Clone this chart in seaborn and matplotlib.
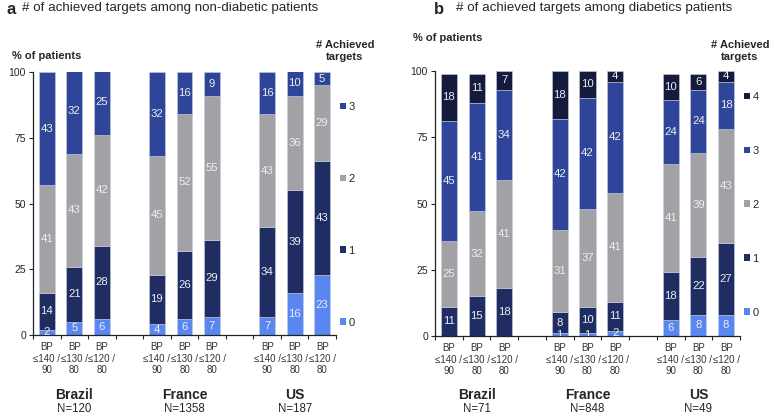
import numpy as np
import pandas as pd
import matplotlib
matplotlib.use("Agg")
import matplotlib.pyplot as plt
from matplotlib.patches import Patch
from matplotlib.transforms import blended_transform_factory
import seaborn as sns

# ---- data ----
countries_a = ["Brazil", "France", "US"]
n_a = ["N=120", "N=1358", "N=187"]
countries_b = ["Brazil", "France", "US"]
n_b = ["N=71", "N=848", "N=49"]
bp_labels = ["BP\n≤140 /\n90", "BP\n≤130 /\n80", "BP\n≤120 /\n80"]

# panel a: non-diabetic, 4 categories (0..3)
a0 = [2, 5, 6, 4, 6, 7, 7, 16, 23]
a1 = [14, 21, 28, 19, 26, 29, 34, 39, 43]
a2 = [41, 43, 42, 45, 52, 55, 43, 36, 29]
a3 = [43, 32, 25, 32, 16, 9, 16, 10, 5]

# panel b: diabetic, 5 categories (0..4)
b0 = [0, 0, 0, 1, 1, 2, 6, 8, 8]
b1 = [11, 15, 18, 8, 10, 11, 18, 22, 27]
b2 = [25, 32, 41, 31, 37, 41, 41, 39, 43]
b3 = [45, 41, 34, 42, 42, 42, 24, 24, 18]
b4 = [18, 11, 7, 18, 10, 4, 10, 6, 4]

colors = {"0": "#5a86f2", "1": "#1f2d63", "2": "#a2a2a6", "3": "#2e4599", "4": "#141b3c"}
slots = [0, 1, 2, 4, 5, 6, 8, 9, 10]

sns.set_theme(style="ticks")
plt.rcParams["font.family"] = ["Liberation Sans", "DejaVu Sans"]

fig = plt.figure(figsize=(7.74, 4.16), dpi=100)
ax_a = fig.add_axes([33 / 774, 1 - 335 / 416, 303 / 774, 263 / 416])
ax_b = fig.add_axes([435 / 774, 1 - 336 / 416, 305 / 774, 265 / 416])


def draw(ax, series, countries, ns):
    cats = [str(i) for i in range(len(series))]
    rows = []
    for c, vals in zip(cats, series):
        for s, v in zip(slots, vals):
            rows.append({"pos": s, "cat": c, "val": v})
    df = pd.DataFrame(rows)
    sns.histplot(data=df, x="pos", weights="val", hue="cat",
                 hue_order=cats[::-1], multiple="stack", discrete=True,
                 shrink=0.58, palette=colors, alpha=1, legend=False,
                 edgecolor="#c9cde0", linewidth=0.4, ax=ax)
    ax.set_xlim(-0.5, 10.5)
    ax.set_ylim(0, 100)
    ax.set_xlabel("")
    ax.set_ylabel("")
    # value labels at segment centres
    for i, s in enumerate(slots):
        base = 0
        for c, vals in zip(cats, series):
            v = vals[i]
            if v > 0:
                ax.text(s, base + v / 2, f"{v}", ha="center", va="center",
                        color="#eeeeee", fontsize=8.2, clip_on=True)
            base += v
    ax.set_yticks([0, 25, 50, 75, 100])
    ax.tick_params(axis="y", labelsize=7.5, length=3, width=0.8, pad=2)
    ax.set_xticks(slots)
    ax.set_xticklabels(bp_labels * 3, fontsize=7.0, color="#333333", linespacing=1.2)
    ax.tick_params(axis="x", which="major", length=0, pad=5)
    ax.set_xticks(np.arange(-0.5, 11, 1), minor=True)
    ax.tick_params(axis="x", which="minor", length=3, width=0.8, direction="out")
    for sp in ["top", "right"]:
        ax.spines[sp].set_visible(False)
    for sp in ["left", "bottom"]:
        ax.spines[sp].set_linewidth(0.9)
        ax.spines[sp].set_color("#222222")
    tr = blended_transform_factory(ax.transData, fig.transFigure)
    for k, (cn, nn) in enumerate(zip(countries, ns)):
        ax.text(slots[3 * k + 1], 1 - 395 / 416, cn, transform=tr, ha="center",
                va="center", fontsize=10, fontweight="bold")
        ax.text(slots[3 * k + 1], 1 - 409 / 416, nn, transform=tr, ha="center",
                va="center", fontsize=8.3)


draw(ax_a, [a0, a1, a2, a3], countries_a, n_a)
draw(ax_b, [b0, b1, b2, b3, b4], countries_b, n_b)

# legends
def legend(ax, cats, x, y, spacing):
    handles = [Patch(facecolor=colors[c], edgecolor="none") for c in cats]
    lg = ax.legend(handles, cats, loc="upper left", bbox_to_anchor=(x, y),
                   bbox_transform=fig.transFigure, frameon=False, fontsize=8,
                   handlelength=0.55, handleheight=0.55, handletextpad=0.2,
                   labelspacing=spacing, borderpad=0, borderaxespad=0)
    return lg

legend(ax_a, ["3", "2", "1", "0"], 340 / 774, 1 - 102 / 416, 5.57)
legend(ax_b, ["4", "3", "2", "1", "0"], 744 / 774, 1 - 92 / 416, 3.95)

# headers
fig.text(345 / 774, 1 - 51 / 416, "# Achieved\ntargets", ha="center", va="center",
         fontsize=8, fontweight="bold", linespacing=1.25)
fig.text(740 / 774, 1 - 51 / 416, "# Achieved\ntargets", ha="center", va="center",
         fontsize=8, fontweight="bold", linespacing=1.25)
fig.text(12 / 774, 1 - 56 / 416, "% of patients", ha="left", va="center",
         fontsize=8, fontweight="bold")
fig.text(413 / 774, 1 - 38 / 416, "% of patients", ha="left", va="center",
         fontsize=8, fontweight="bold")

# titles
fig.text(7 / 774, 1 - 9 / 416, "a", ha="left", va="center", fontsize=12, fontweight="bold")
fig.text(22 / 774, 1 - 8 / 416, "# of achieved targets among non-diabetic patients",
         ha="left", va="center", fontsize=9.6)
fig.text(434 / 774, 1 - 10 / 416, "b", ha="left", va="center", fontsize=12, fontweight="bold")
fig.text(456 / 774, 1 - 8 / 416, "# of achieved targets among diabetics patients",
         ha="left", va="center", fontsize=9.6)

fig.savefig("out.png", dpi=100)
